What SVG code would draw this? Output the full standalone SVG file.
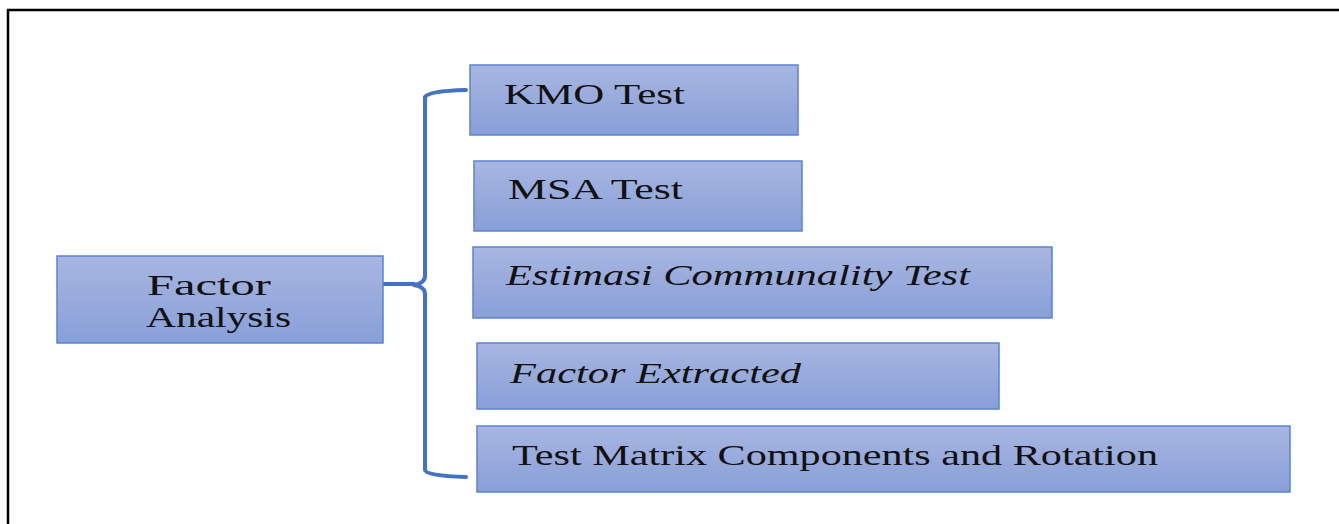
<svg xmlns="http://www.w3.org/2000/svg" width="1339" height="524" viewBox="0 0 1339 524">
<defs>
<linearGradient id="g" x1="0" y1="0" x2="0" y2="1">
<stop offset="0" stop-color="#a8b6e1"/>
<stop offset="1" stop-color="#889fd8"/>
</linearGradient>
</defs>
<style>
.box{fill:url(#g);stroke:#5b82d2;stroke-width:1.5}
.t{font-family:"Liberation Serif","Times New Roman",serif;font-size:29px;fill:#111}
.i{font-style:italic}
.conn{fill:none;stroke:#4472c4;stroke-width:4;stroke-linecap:round;stroke-linejoin:round}
</style>
<rect width="1339" height="524" fill="#fff"/>
<path d="M8 524 V10 H1339" fill="none" stroke="#000" stroke-width="2.5"/>
<g id="connectors">
<path class="conn" d="M466 90 Q428 91 425 97 V276 Q425 283 414 285 Q425 287 425 294 V470 Q426 476 466 477"/>
<path class="conn" d="M379 284 H414"/>
</g>
<g id="factor-analysis">
<rect class="box" x="57" y="256" width="326" height="87"/>
<text class="t" x="147" y="295" textLength="124" lengthAdjust="spacingAndGlyphs">Factor</text>
<text class="t" x="146" y="327" textLength="145" lengthAdjust="spacingAndGlyphs">Analysis</text>
</g>
<g id="kmo">
<rect class="box" x="470" y="65" width="328" height="70"/>
<text class="t" x="504" y="104" textLength="181" lengthAdjust="spacingAndGlyphs">KMO Test</text>
</g>
<g id="msa">
<rect class="box" x="474" y="161" width="328" height="70"/>
<text class="t" x="508" y="199" textLength="175" lengthAdjust="spacingAndGlyphs">MSA Test</text>
</g>
<g id="estimasi">
<rect class="box" x="473" y="247" width="579" height="71"/>
<text class="t i" x="506" y="285" textLength="464" lengthAdjust="spacingAndGlyphs">Estimasi Communality Test</text>
</g>
<g id="factor-extracted">
<rect class="box" x="477" y="343" width="522" height="66"/>
<text class="t i" x="510" y="383" textLength="291" lengthAdjust="spacingAndGlyphs">Factor Extracted</text>
</g>
<g id="test-matrix">
<rect class="box" x="477" y="426" width="813" height="66"/>
<text class="t" x="512" y="465" textLength="646" lengthAdjust="spacingAndGlyphs">Test Matrix Components and Rotation</text>
</g>
</svg>
